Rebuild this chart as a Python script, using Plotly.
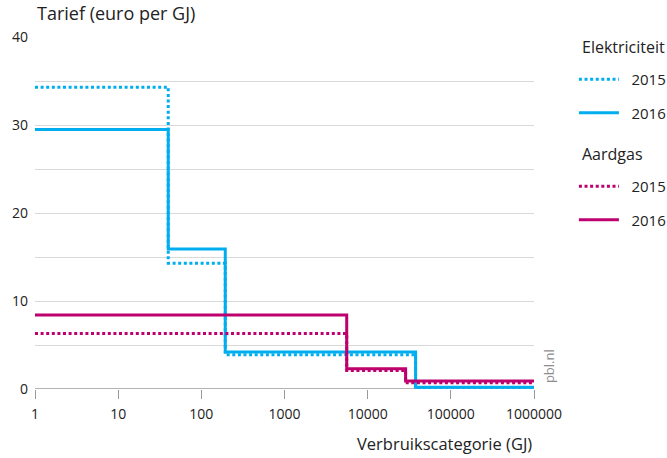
import plotly.graph_objects as go

# Data
elec_x = [1, 40, 194, 37700, 1000000]
elec_2015 = [34.3, 14.3, 3.9, 0.1, 0.1]
elec_2016 = [29.5, 15.9, 4.2, 0.2, 0.2]

gas_x = [1, 5600, 28600, 1000000]
gas_2015 = [6.3, 2.1, 0.7, 0.7]
gas_2016 = [8.4, 2.3, 0.9, 0.9]

x_tickvals = [1, 10, 100, 1000, 10000, 100000, 1000000]
x_ticktext = ["1", "10", "100", "1000", "10000", "100000", "1000000"]
y_tickvals = [0, 10, 20, 30, 40]
series_names = ["2015", "2016"]

CYAN = "#00AEEF"
MAGENTA = "#BE006F"
FONT = "Open Sans"
TXT = "#222222"
PAD = "\u2002"

fig = go.Figure()
fig.add_trace(go.Scatter(x=elec_x, y=elec_2015, mode="lines", line_shape="hv", name=PAD + series_names[0],
                         line=dict(color=CYAN, width=3, dash="3px,2.6px"),
                         legend="legend", legendgroup="e15"))
fig.add_trace(go.Scatter(x=elec_x, y=elec_2016, mode="lines", line_shape="hv", name=PAD + series_names[1],
                         line=dict(color=CYAN, width=3),
                         legend="legend", legendgroup="e16"))
fig.add_trace(go.Scatter(x=gas_x, y=gas_2015, mode="lines", line_shape="hv", name=PAD + series_names[0],
                         line=dict(color=MAGENTA, width=3, dash="3px,2.6px"),
                         legend="legend2", legendgroup="g15"))
fig.add_trace(go.Scatter(x=gas_x, y=gas_2016, mode="lines", line_shape="hv", name=PAD + series_names[1],
                         line=dict(color=MAGENTA, width=3),
                         legend="legend2", legendgroup="g16"))

legend_common = dict(font=dict(family=FONT, size=15, color=TXT), bgcolor="rgba(0,0,0,0)",
                     tracegroupgap=11, xanchor="left", yanchor="top", itemwidth=40)

fig.update_layout(
    width=667, height=458,
    margin=dict(l=35, r=133, t=37, b=69, autoexpand=False),
    paper_bgcolor="white", plot_bgcolor="white",
    font=dict(family=FONT, size=14, color=TXT),
    showlegend=True,
    legend=dict(x=1.08, y=0.926, **legend_common),
    legend2=dict(x=1.08, y=0.622, **legend_common),
    xaxis=dict(type="log", range=[0, 6], tickvals=x_tickvals, ticktext=x_ticktext,
               showgrid=False, zeroline=False, showline=False, automargin=False,
               ticks="outside", ticklen=9, tickcolor="#999999", tickwidth=1,
               ticklabelstandoff=3,
               tickfont=dict(family=FONT, size=14, color=TXT)),
    yaxis=dict(range=[0, 40], tickvals=y_tickvals, showgrid=True, gridcolor="#d9d9d9",
               gridwidth=1, zeroline=False, showline=False, ticks="", automargin=False,
               minor=dict(dtick=5, showgrid=True, gridcolor="#d9d9d9", gridwidth=1),
               tickfont=dict(family=FONT, size=14, color=TXT), ticklabelstandoff=6),
    shapes=[dict(type="line", xref="paper", yref="y", x0=0, x1=1, y0=0, y1=0,
                 line=dict(color="#9a9a9a", width=1.5), layer="below")],
    annotations=[
        dict(text="Tarief (euro per GJ)", xref="paper", yref="paper", x=0, y=1.0, yshift=24,
             xanchor="left", yanchor="middle", showarrow=False,
             font=dict(family=FONT, size=18, color=TXT)),
        dict(text="Verbruikscategorie (GJ)", xref="paper", yref="paper", x=1, y=0, yshift=-54,
             xanchor="right", yanchor="middle", showarrow=False,
             font=dict(family=FONT, size=16.5, color=TXT)),
        dict(text="Elektriciteit", xref="paper", yref="paper", x=1.092, y=1.0, yshift=-10,
             xanchor="left", yanchor="middle", showarrow=False,
             font=dict(family=FONT, size=16, color=TXT)),
        dict(text="Aardgas", xref="paper", yref="paper", x=1.092, y=1.0, yshift=-117,
             xanchor="left", yanchor="middle", showarrow=False,
             font=dict(family=FONT, size=16, color=TXT)),
        dict(text="pbl.nl", xref="paper", yref="y", x=1, xshift=15, y=2.6, textangle=-90,
             xanchor="center", yanchor="middle", showarrow=False,
             font=dict(family=FONT, size=13, color="#8c8c8c")),
    ],
)

fig.write_html("out.html", post_script="document.body.style.margin='0';",
               config={"displayModeBar": False})
